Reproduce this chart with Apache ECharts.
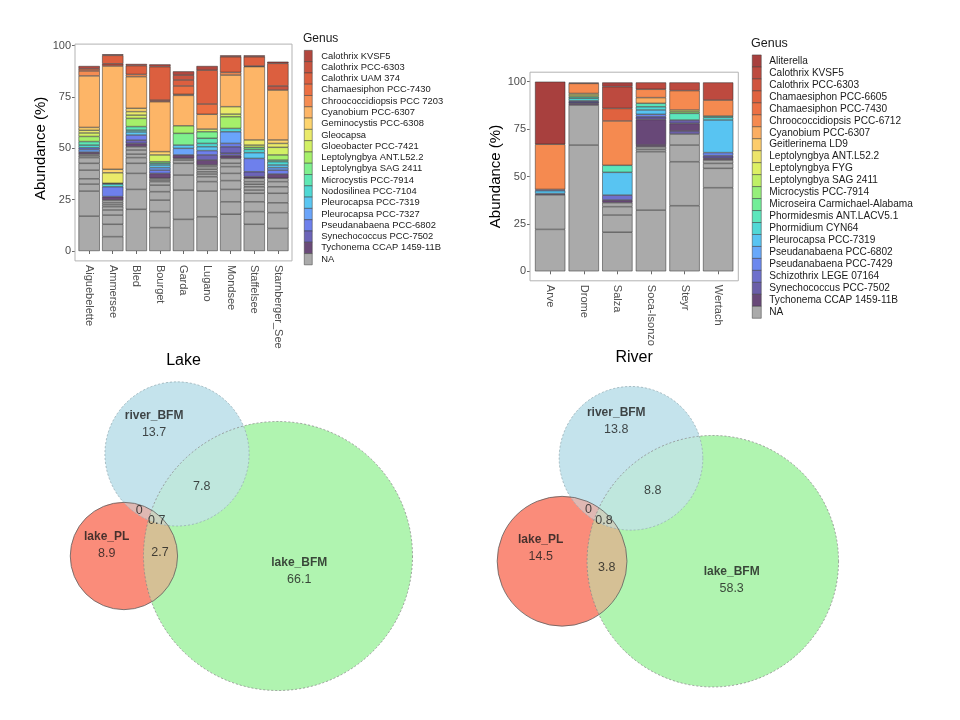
<!DOCTYPE html>
<html><head><meta charset="utf-8">
<script src="https://cdn.jsdelivr.net/npm/echarts@6/dist/echarts.min.js"></script>
<style>html,body{margin:0;padding:0;background:#fff}#c{width:960px;height:720px}</style>
</head><body><div id="c"></div>
<script>
// ---------- Lake stacked bars ----------
const lakeCategories = ['Aiguebelette','Ammersee','Bled','Bourget','Garda','Lugano','Mondsee','Staffelsee','Starnberger_See'];
const lakeGenera = ['Calothrix KVSF5','Calothrix PCC-6303','Calothrix UAM 374','Chamaesiphon PCC-7430','Chroococcidiopsis PCC 7203','Cyanobium PCC-6307','Geminocystis PCC-6308','Gleocapsa','Gloeobacter PCC-7421','Leptolyngbya ANT.L52.2','Leptolyngbya SAG 2411','Microcystis PCC-7914','Nodosilinea PCC-7104','Pleurocapsa PCC-7319','Pleurocapsa PCC-7327','Pseudanabaena PCC-6802','Synechococcus PCC-7502','Tychonema CCAP 1459-11B','NA'];
const lakeColors = ['#B2473E','#C9533F','#DC5F3F','#EC6F42','#F58C52','#FDB567','#FDD46E','#EAEA6A','#D2F064','#A6F06A','#7EF08E','#5EE8B4','#4ED8D4','#5AC6F2','#6AA4FA','#6E80EC','#6C64B8','#6A4A78','#AAAAAA'];
// each lake: [genus index, cumulative top (%)] from bottom to top
const lakeAiguebelette = [[18,17.0],[18,29.2],[18,32.6],[18,35.2],[18,39.4],[18,42.7],[18,45.5],[18,46.4],[18,47.2],[17,48.2],[14,49.4],[15,50.3],[12,51.6],[11,53.3],[9,55.8],[8,57.5],[7,58.8],[6,60.2],[5,85.3],[4,87.7],[3,88.7],[0,90.1]];
const lakeAmmersee = [[18,7.0],[18,13.0],[18,17.5],[18,20.0],[18,21.6],[18,22.6],[18,23.6],[18,24.8],[17,26.5],[15,31.3],[12,32.6],[17,33.0],[7,38.1],[6,39.8],[5,90.1],[1,91.2],[2,95.3],[0,95.8]];
const lakeBled = [[18,20.3],[18,30.0],[18,37.8],[18,42.7],[18,45.5],[18,47.2],[18,49.2],[18,50.8],[17,52.4],[16,54.0],[15,56.5],[13,58.0],[12,58.9],[11,60.6],[9,64.6],[8,66.2],[7,67.9],[6,69.5],[5,84.9],[4,86.0],[2,90.3],[0,91.1]];
const lakeBourget = [[18,11.4],[18,19.2],[18,24.8],[18,28.9],[18,32.1],[18,33.8],[18,34.6],[18,35.4],[17,37.8],[15,39.4],[14,40.6],[13,41.9],[12,42.7],[10,43.5],[8,46.8],[6,48.4],[5,72.7],[1,73.5],[2,89.8],[0,90.9]];
const lakeGarda = [[18,15.4],[18,29.7],[18,37.0],[18,42.7],[18,44.3],[18,45.1],[17,46.8],[14,50.0],[13,51.6],[10,57.3],[9,61.0],[5,75.8],[4,76.3],[3,80.4],[2,83.3],[1,85.7],[0,87.5]];
const lakeLugano = [[18,16.7],[18,29.2],[18,33.8],[18,36.2],[18,37.5],[18,38.6],[18,39.8],[18,41.1],[18,41.9],[17,44.3],[16,46.8],[15,48.9],[13,50.8],[12,52.4],[11,54.9],[10,58.1],[8,59.4],[5,66.6],[3,71.6],[2,88.1],[0,90.1]];
const lakeMondsee = [[18,17.9],[18,24.0],[18,30.0],[18,34.3],[18,37.8],[18,41.1],[18,42.7],[18,45.1],[17,46.4],[16,47.6],[16,50.8],[15,52.4],[14,58.1],[12,59.7],[9,65.4],[8,66.7],[7,70.3],[5,85.7],[4,87.0],[2,94.6],[0,95.3]];
const lakeStaffelsee = [[18,13.0],[18,19.2],[18,24.0],[18,28.1],[18,29.7],[18,31.3],[18,32.5],[18,33.8],[18,35.4],[17,36.2],[16,38.6],[15,45.1],[13,47.9],[12,49.5],[10,50.5],[8,51.6],[7,54.1],[5,89.8],[3,90.1],[2,94.6],[0,95.3]];
const lakeStarnberger = [[18,11.0],[18,18.7],[18,23.5],[18,28.1],[18,31.3],[18,33.8],[18,35.4],[17,37.5],[15,39.4],[14,40.6],[13,41.9],[12,43.5],[11,44.3],[9,46.8],[8,50.5],[7,52.4],[6,54.1],[5,78.4],[1,80.4],[2,91.4],[0,92.2]];
const lakeStacks = [lakeAiguebelette,lakeAmmersee,lakeBled,lakeBourget,lakeGarda,lakeLugano,lakeMondsee,lakeStaffelsee,lakeStarnberger];

// ---------- River stacked bars ----------
const riverCategories = ['Arve','Drome','Salza','Soca-Isonzo','Steyr','Wertach'];
const riverGenera = ['Aliterella','Calothrix KVSF5','Calothrix PCC-6303','Chamaesiphon PCC-6605','Chamaesiphon PCC-7430','Chroococcidiopsis PCC-6712','Cyanobium PCC-6307','Geitlerinema LD9','Leptolyngbya ANT.L52.2','Leptolyngbya FYG','Leptolyngbya SAG 2411','Microcystis PCC-7914','Microseira Carmichael-Alabama','Phormidesmis ANT.LACV5.1','Phormidium CYN64','Pleurocapsa PCC-7319','Pseudanabaena PCC-6802','Pseudanabaena PCC-7429','Schizothrix LEGE 07164','Synechococcus PCC-7502','Tychonema CCAP 1459-11B','NA'];
const riverColors = ['#A8403E','#BD4A3F','#D0553F','#E0623F','#EC7044','#F58A50','#FBAE62','#FDCC6C','#EDE46A','#DDF064','#BFF066','#96F07A','#72EE98','#5CE6BC','#50D8D6','#58C4F2','#68A8FA','#6C88EE','#6E70CC','#6A5EA8','#684878','#AAAAAA'];
const riverArve = [[21,22.1],[21,40.3],[20,41.0],[15,42.5],[17,43.2],[5,67.0],[0,100]];
const riverDrome = [[21,66.6],[21,87.7],[20,88.6],[19,89.4],[18,90.0],[14,91.3],[13,92.1],[9,93.0],[8,93.8],[5,99.1],[0,99.5]];
const riverSalza = [[21,20.6],[21,29.7],[21,34.1],[21,36.2],[20,37.6],[18,40.2],[15,52.2],[13,55.9],[5,79.3],[3,85.9],[1,97.4],[0,99.6]];
const riverSoca = [[21,32.3],[21,63.1],[21,64.3],[21,65.7],[20,66.6],[20,80.1],[19,81.5],[17,82.8],[15,85.1],[14,86.8],[13,88.6],[6,91.6],[5,96.0],[1,99.6]];
const riverSteyr = [[21,34.6],[21,57.8],[21,66.6],[21,72.4],[19,74.0],[20,78.0],[19,79.8],[13,83.3],[11,84.2],[9,85.1],[5,95.3],[1,99.6]];
const riverWertach = [[21,44.1],[21,54.3],[21,56.9],[21,58.7],[20,59.6],[19,61.0],[17,62.6],[15,79.8],[14,81.2],[13,81.9],[5,90.3],[1,99.6]];
const riverStacks = [riverArve,riverDrome,riverSalza,riverSoca,riverSteyr,riverWertach];

// ---------- Venn diagrams ----------
const vennSets = ['lake_PL','river_BFM','lake_BFM'];
// regions: PL only, river only, lakeBFM only, river∩lakeBFM, PL∩river, PL∩river∩lakeBFM, PL∩lakeBFM
const lakeVennValues = [8.9, 13.7, 66.1, 7.8, 0, 0.7, 2.7];
const riverVennValues = [14.5, 13.8, 58.3, 8.8, 0, 0.8, 3.8];

// ---------- layout (not data) ----------
const FONT = 'Liberation Sans, Arial, sans-serif';
const vennLeftCenters = [[-10.07, 0], [-6.6, 6.67], [0, 0]];
const vennRightCenters = [[-10.15, 0], [-5.51, 6.93], [0, 0]];
const vennLeftLabelPos = [[-11.2,0.7],[-8.1,8.62],[1.39,-1.0],[-4.99,4.53],[-9.07,2.96],[-7.93,2.31],[-7.71,0.24]];
const vennRightLabelPos = [[-11.59,0.87],[-6.5,9.45],[1.27,-1.27],[-4.05,4.75],[-8.38,3.49],[-7.33,2.77],[-7.14,-0.44]];

function stackSeries(stacks, colors, stackName, axisIdx) {
  const maxLen = Math.max.apply(null, stacks.map(s => s.length));
  const out = [];
  for (let k = 0; k < maxLen; k++) {
    out.push({
      type: 'bar', stack: stackName, xAxisIndex: axisIdx, yAxisIndex: axisIdx,
      barCategoryGap: '10%', silent: true, animation: false,
      itemStyle: { borderColor: '#2a2a2a', borderWidth: 0.5 },
      data: stacks.map(s => {
        if (k >= s.length) return '-';
        const prev = k ? s[k - 1][1] : 0;
        return { value: +(s[k][1] - prev).toFixed(2), itemStyle: { color: colors[s[k][0]] } };
      })
    });
  }
  return out;
}
function legendSeries(genera, colors, stackName, axisIdx) {
  return genera.map((g, i) => ({
    type: 'bar', name: g, stack: stackName, xAxisIndex: axisIdx, yAxisIndex: axisIdx,
    data: [], itemStyle: { color: colors[i] }
  }));
}
function legendData(genera, colors) {
  return genera.map((g, i) => ({ name: g, itemStyle: { color: colors[i], borderColor: '#3a3a3a', borderWidth: 0.5 } }));
}
function setTotals(v) {
  return [v[0] + v[4] + v[5] + v[6], v[1] + v[3] + v[4] + v[5], v[2] + v[3] + v[5] + v[6]];
}
const vennBase = ['#FA8C7A', '#C4E3EC', '#B0F4B0'];
const vennOverlay = [null, 'rgba(196,227,236,0.5)', 'rgba(176,244,176,0.5)'];
const vennStroke = [['#5e5e5e', null], ['#98adb5', [2, 2]], ['#8a8a8a', [2, 2]]];
function vennCircles(values, centers, axisIdx) {
  const tot = setTotals(values);
  const data = [];
  [2, 1, 0].forEach(i => data.push([centers[i][0], centers[i][1], Math.sqrt(tot[i]), i, 0]));
  [2, 1].forEach(i => data.push([centers[i][0], centers[i][1], Math.sqrt(tot[i]), i, 1]));
  [2, 1, 0].forEach(i => data.push([centers[i][0], centers[i][1], Math.sqrt(tot[i]), i, 2]));
  return {
    type: 'custom', xAxisIndex: axisIdx, yAxisIndex: axisIdx, clip: false, silent: true, animation: false,
    encode: { x: 0, y: 1 },
    data: data,
    renderItem: function (params, api) {
      const c = api.coord([api.value(0), api.value(1)]);
      const r = api.size([api.value(2), 0])[0];
      const i = api.value(3), layer = api.value(4);
      let style;
      if (layer === 0) style = { fill: vennBase[i], stroke: null };
      else if (layer === 1) style = { fill: vennOverlay[i], stroke: null };
      else style = { fill: 'none', stroke: vennStroke[i][0], lineWidth: 0.8, lineDash: vennStroke[i][1] };
      return { type: 'circle', shape: { cx: c[0], cy: c[1], r: r }, style: style };
    }
  };
}
function vennLabels(values, pos, axisIdx) {
  return {
    type: 'scatter', xAxisIndex: axisIdx, yAxisIndex: axisIdx, symbolSize: 0, silent: true, animation: false, z: 5,
    data: values.map((v, i) => ({
      value: pos[i],
      label: { formatter: i < 3 ? '{n|' + vennSets[i] + '}\n{v|' + v + '}' : '{v|' + v + '}' }
    })),
    label: {
      show: true, position: 'inside',
      rich: {
        n: { fontFamily: FONT, fontWeight: 'bold', fontSize: 12, lineHeight: 17, color: '#1a1a1a' },
        v: { fontFamily: FONT, fontSize: 12.5, lineHeight: 17, color: '#1a1a1a' }
      }
    }
  };
}
function catAxis(gridIndex, data, offset, name, nameGap, fs) {
  return {
    type: 'category', gridIndex: gridIndex, data: data, offset: offset,
    axisLine: { show: false },
    axisTick: { show: true, alignWithLabel: true, length: 3, lineStyle: { color: '#444', width: 0.8 } },
    axisLabel: { rotate: -90, margin: 4, fontSize: fs, color: '#4d4d4d', fontFamily: FONT, padding: [9, 0, 0, 0], interval: 0 },
    splitLine: { show: false },
    name: name, nameLocation: 'middle', nameGap: nameGap,
    nameTextStyle: { fontSize: 16, color: '#000', fontFamily: FONT }
  };
}
function valAxis(gridIndex, offset, nameGap, fs) {
  return {
    type: 'value', gridIndex: gridIndex, min: 0, max: 100, interval: 25, offset: offset,
    axisLine: { show: false },
    axisTick: { show: true, length: 3, lineStyle: { color: '#444', width: 0.8 } },
    axisLabel: { margin: 4, fontSize: fs, color: '#4d4d4d', fontFamily: FONT },
    splitLine: { show: false },
    name: 'Abundance (%)', nameLocation: 'middle', nameRotate: 90, nameGap: nameGap,
    nameTextStyle: { fontSize: 15, color: '#000', fontFamily: FONT }
  };
}
function hiddenAxis(type, gridIndex, min, max) {
  return { type: 'value', gridIndex: gridIndex, min: min, max: max, show: false, splitLine: { show: false } };
}

const chart = echarts.init(document.getElementById('c'), null, { renderer: 'canvas' });
const option = {
  animation: false,
  backgroundColor: '#fff',
  textStyle: { fontFamily: FONT },
  title: [
    { text: 'Genus', left: 303, top: 33, padding: 0, textStyle: { fontSize: 12, fontWeight: 'normal', color: '#1a1a1a', fontFamily: FONT } },
    { text: 'Genus', left: 751, top: 37, padding: 0, textStyle: { fontSize: 12.5, fontWeight: 'normal', color: '#1a1a1a', fontFamily: FONT } }
  ],
  legend: [
    { orient: 'vertical', left: 304, top: 50.1, padding: 0, itemWidth: 8, itemHeight: 11.26, itemGap: -0.47, icon: 'rect',
      selectedMode: false, height: 300, data: legendData(lakeGenera, lakeColors),
      textStyle: { fontFamily: FONT, fontSize: 9.4, color: '#1a1a1a', lineHeight: 11.26, padding: [0, 0, 0, 4] } },
    { orient: 'vertical', left: 752, top: 54.7, padding: 0, itemWidth: 9, itemHeight: 11.95, itemGap: -0.48, icon: 'rect',
      selectedMode: false, height: 320, data: legendData(riverGenera, riverColors),
      textStyle: { fontFamily: FONT, fontSize: 10.1, color: '#1a1a1a', lineHeight: 11.95, padding: [0, 0, 0, 3] } }
  ],
  grid: [
    { left: 77.36, top: 45.7, width: 212.3, height: 205.3 },
    { left: 533.36, top: 81.7, width: 201.6, height: 189.6 },
    { left: 33.2, top: 357.1, width: 397.8, height: 351.9 },
    { left: 475.2, top: 368.15, width: 386.1, height: 341.6 }
  ],
  xAxis: [
    catAxis(0, lakeCategories, 9.9, 'Lake', 86.6, 11),
    catAxis(1, riverCategories, 9.5, 'River', 66.7, 11),
    hiddenAxis('x', 2, -16, 10),
    hiddenAxis('x', 3, -16, 10)
  ],
  yAxis: [
    valAxis(0, 2.36, 25, 11),
    valAxis(1, 3.36, 25, 11),
    hiddenAxis('y', 2, -10, 13),
    hiddenAxis('y', 3, -10, 13)
  ],
  graphic: [
    { type: 'rect', z: 50, silent: true, shape: { x: 75, y: 44.1, width: 217, height: 216.8 }, style: { fill: 'none', stroke: '#b3b3b3', lineWidth: 1 } },
    { type: 'rect', z: 50, silent: true, shape: { x: 530, y: 72.2, width: 208.3, height: 208.6 }, style: { fill: 'none', stroke: '#b3b3b3', lineWidth: 1 } }
  ],
  series: [].concat(
    stackSeries(lakeStacks, lakeColors, 'lake', 0),
    legendSeries(lakeGenera, lakeColors, 'lake', 0),
    stackSeries(riverStacks, riverColors, 'river', 1),
    legendSeries(riverGenera, riverColors, 'river', 1),
    [vennCircles(lakeVennValues, vennLeftCenters, 2), vennLabels(lakeVennValues, vennLeftLabelPos, 2),
     vennCircles(riverVennValues, vennRightCenters, 3), vennLabels(riverVennValues, vennRightLabelPos, 3)]
  )
};
chart.setOption(option);
</script>
</body></html>
